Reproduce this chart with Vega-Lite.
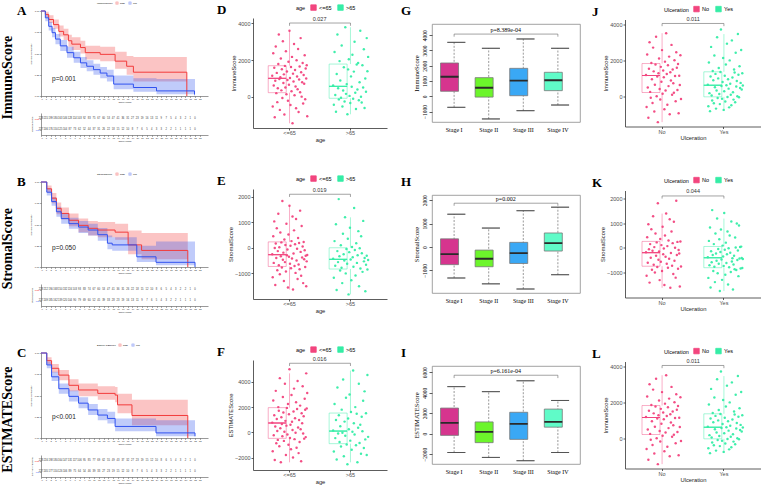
{
"$schema": "https://vega.github.io/schema/vega-lite/v6.json",
"background": "white",
"padding": {"left": 0, "top": 1, "right": 0, "bottom": 0},
"config": {
 "view": {"stroke": null},
 "font": "Liberation Sans",
 "axis": {"grid": false, "labelOverlap": false, "labelFontSize": 5.5, "titleFontSize": 5.8, "titleFontWeight": "normal", "labelColor": "#4d4d4d", "titleColor": "#222", "domainColor": "#333", "tickColor": "#333", "tickSize": 2, "labelPadding": 1, "titlePadding": 1, "domainWidth": 0.8, "tickWidth": 0.8},
 "legend": {"labelFontSize": 5.5, "titleFontSize": 5.5, "titleFontWeight": "normal", "direction": "horizontal", "titleOrient": "left", "symbolSize": 30, "padding": 0, "columnPadding": 4, "labelOffset": 2, "titlePadding": 4, "symbolType": "square", "symbolStrokeWidth": 0.8},
 "title": {"font": "Liberation Serif", "fontSize": 13, "fontWeight": "bold", "anchor": "start", "frame": "group", "color": "#000", "offset": 4}
},
"resolve": {"scale": {"color": "independent"}, "legend": {"color": "independent"}},
"datasets": {
 "km": [
  {"p":"A","grp":"high","t":0,"s":1,"lo":1,"hi":1},{"p":"A","grp":"high","t":0.9,"s":0.96,"lo":0.93,"hi":0.99},{"p":"A","grp":"high","t":1.6,"s":0.9,"lo":0.86,"hi":0.95},{"p":"A","grp":"high","t":2.6,"s":0.84,"lo":0.79,"hi":0.9},{"p":"A","grp":"high","t":3.7,"s":0.76,"lo":0.7,"hi":0.83},{"p":"A","grp":"high","t":4.7,"s":0.72,"lo":0.66,"hi":0.79},{"p":"A","grp":"high","t":5.7,"s":0.65,"lo":0.58,"hi":0.72},{"p":"A","grp":"high","t":6.4,"s":0.61,"lo":0.54,"hi":0.69},{"p":"A","grp":"high","t":8.2,"s":0.57,"lo":0.5,"hi":0.65},{"p":"A","grp":"high","t":9.2,"s":0.51,"lo":0.43,"hi":0.59},{"p":"A","grp":"high","t":12.3,"s":0.49,"lo":0.41,"hi":0.58},{"p":"A","grp":"high","t":15.4,"s":0.41,"lo":0.32,"hi":0.52},{"p":"A","grp":"high","t":17.8,"s":0.35,"lo":0.25,"hi":0.47},{"p":"A","grp":"high","t":19.2,"s":0.28,"lo":0.17,"hi":0.46},{"p":"A","grp":"high","t":30.3,"s":0,"lo":0,"hi":0},
  {"p":"A","grp":"low","t":0,"s":1,"lo":1,"hi":1},{"p":"A","grp":"low","t":0.9,"s":0.92,"lo":0.88,"hi":0.96},{"p":"A","grp":"low","t":1.6,"s":0.82,"lo":0.77,"hi":0.87},{"p":"A","grp":"low","t":2.3,"s":0.745,"lo":0.69,"hi":0.8},{"p":"A","grp":"low","t":3,"s":0.67,"lo":0.61,"hi":0.73},{"p":"A","grp":"low","t":4,"s":0.59,"lo":0.53,"hi":0.66},{"p":"A","grp":"low","t":5.4,"s":0.51,"lo":0.45,"hi":0.58},{"p":"A","grp":"low","t":6.8,"s":0.45,"lo":0.39,"hi":0.52},{"p":"A","grp":"low","t":8.2,"s":0.39,"lo":0.33,"hi":0.46},{"p":"A","grp":"low","t":9.5,"s":0.35,"lo":0.29,"hi":0.42},{"p":"A","grp":"low","t":10.9,"s":0.31,"lo":0.25,"hi":0.38},{"p":"A","grp":"low","t":12.3,"s":0.27,"lo":0.21,"hi":0.34},{"p":"A","grp":"low","t":13.7,"s":0.235,"lo":0.17,"hi":0.31},{"p":"A","grp":"low","t":15.1,"s":0.14,"lo":0.08,"hi":0.24},{"p":"A","grp":"low","t":19.2,"s":0.1,"lo":0.05,"hi":0.21},{"p":"A","grp":"low","t":24,"s":0.06,"lo":0.02,"hi":0.2},{"p":"A","grp":"low","t":31.9,"s":0.02,"lo":0,"hi":0.2},{"p":"A","grp":"low","t":32,"s":0.02,"lo":0,"hi":0.2},
  {"p":"B","grp":"high","t":0,"s":1,"lo":1,"hi":1},{"p":"B","grp":"high","t":1.2,"s":0.92,"lo":0.88,"hi":0.96},{"p":"B","grp":"high","t":2.2,"s":0.81,"lo":0.75,"hi":0.87},{"p":"B","grp":"high","t":3.2,"s":0.69,"lo":0.62,"hi":0.76},{"p":"B","grp":"high","t":4.2,"s":0.63,"lo":0.56,"hi":0.7},{"p":"B","grp":"high","t":5.8,"s":0.55,"lo":0.48,"hi":0.63},{"p":"B","grp":"high","t":7.8,"s":0.49,"lo":0.41,"hi":0.57},{"p":"B","grp":"high","t":9.8,"s":0.455,"lo":0.37,"hi":0.54},{"p":"B","grp":"high","t":11.8,"s":0.435,"lo":0.35,"hi":0.53},{"p":"B","grp":"high","t":15.4,"s":0.41,"lo":0.32,"hi":0.51},{"p":"B","grp":"high","t":18.1,"s":0.26,"lo":0.15,"hi":0.43},{"p":"B","grp":"high","t":20.9,"s":0.195,"lo":0.09,"hi":0.4},{"p":"B","grp":"high","t":30.5,"s":0,"lo":0,"hi":0},
  {"p":"B","grp":"low","t":0,"s":1,"lo":1,"hi":1},{"p":"B","grp":"low","t":1.2,"s":0.88,"lo":0.84,"hi":0.92},{"p":"B","grp":"low","t":2.2,"s":0.77,"lo":0.72,"hi":0.82},{"p":"B","grp":"low","t":3.2,"s":0.65,"lo":0.59,"hi":0.71},{"p":"B","grp":"low","t":4.2,"s":0.57,"lo":0.51,"hi":0.63},{"p":"B","grp":"low","t":5.8,"s":0.51,"lo":0.45,"hi":0.58},{"p":"B","grp":"low","t":7.8,"s":0.47,"lo":0.4,"hi":0.54},{"p":"B","grp":"low","t":9.8,"s":0.435,"lo":0.37,"hi":0.51},{"p":"B","grp":"low","t":11.8,"s":0.38,"lo":0.31,"hi":0.46},{"p":"B","grp":"low","t":13.8,"s":0.28,"lo":0.21,"hi":0.37},{"p":"B","grp":"low","t":14.8,"s":0.26,"lo":0.19,"hi":0.35},{"p":"B","grp":"low","t":19.9,"s":0.12,"lo":0.06,"hi":0.25},{"p":"B","grp":"low","t":23.9,"s":0.055,"lo":0.02,"hi":0.3},{"p":"B","grp":"low","t":32,"s":0,"lo":0,"hi":0},
  {"p":"C","grp":"high","t":0,"s":1,"lo":1,"hi":1},{"p":"C","grp":"high","t":1.2,"s":0.91,"lo":0.87,"hi":0.95},{"p":"C","grp":"high","t":2.2,"s":0.82,"lo":0.77,"hi":0.87},{"p":"C","grp":"high","t":3.7,"s":0.74,"lo":0.68,"hi":0.8},{"p":"C","grp":"high","t":5.8,"s":0.62,"lo":0.55,"hi":0.69},{"p":"C","grp":"high","t":7.8,"s":0.565,"lo":0.49,"hi":0.64},{"p":"C","grp":"high","t":11.8,"s":0.525,"lo":0.45,"hi":0.61},{"p":"C","grp":"high","t":15.4,"s":0.505,"lo":0.42,"hi":0.6},{"p":"C","grp":"high","t":15.9,"s":0.39,"lo":0.29,"hi":0.52},{"p":"C","grp":"high","t":18.9,"s":0.265,"lo":0.15,"hi":0.45},{"p":"C","grp":"high","t":30.5,"s":0,"lo":0,"hi":0},
  {"p":"C","grp":"low","t":0,"s":1,"lo":1,"hi":1},{"p":"C","grp":"low","t":1.2,"s":0.86,"lo":0.82,"hi":0.9},{"p":"C","grp":"low","t":2.2,"s":0.72,"lo":0.67,"hi":0.78},{"p":"C","grp":"low","t":3.7,"s":0.58,"lo":0.52,"hi":0.64},{"p":"C","grp":"low","t":5.8,"s":0.49,"lo":0.43,"hi":0.56},{"p":"C","grp":"low","t":7.8,"s":0.41,"lo":0.35,"hi":0.48},{"p":"C","grp":"low","t":9.8,"s":0.33,"lo":0.27,"hi":0.4},{"p":"C","grp":"low","t":11.8,"s":0.27,"lo":0.21,"hi":0.34},{"p":"C","grp":"low","t":13.8,"s":0.23,"lo":0.17,"hi":0.31},{"p":"C","grp":"low","t":15.4,"s":0.136,"lo":0.08,"hi":0.23},{"p":"C","grp":"low","t":23.9,"s":0.06,"lo":0.02,"hi":0.21},{"p":"C","grp":"low","t":32,"s":0.02,"lo":0,"hi":0.21}
 ],
 "risk": [
  {"p":"A","grp":"high","t":0,"n":228},{"p":"A","grp":"high","t":1,"n":215},{"p":"A","grp":"high","t":2,"n":199},{"p":"A","grp":"high","t":3,"n":180},{"p":"A","grp":"high","t":4,"n":163},{"p":"A","grp":"high","t":5,"n":146},{"p":"A","grp":"high","t":6,"n":128},{"p":"A","grp":"high","t":7,"n":114},{"p":"A","grp":"high","t":8,"n":103},{"p":"A","grp":"high","t":9,"n":92},{"p":"A","grp":"high","t":10,"n":83},{"p":"A","grp":"high","t":11,"n":75},{"p":"A","grp":"high","t":12,"n":67},{"p":"A","grp":"high","t":13,"n":60},{"p":"A","grp":"high","t":14,"n":53},{"p":"A","grp":"high","t":15,"n":47},{"p":"A","grp":"high","t":16,"n":41},{"p":"A","grp":"high","t":17,"n":36},{"p":"A","grp":"high","t":18,"n":31},{"p":"A","grp":"high","t":19,"n":27},{"p":"A","grp":"high","t":20,"n":23},{"p":"A","grp":"high","t":21,"n":19},{"p":"A","grp":"high","t":22,"n":16},{"p":"A","grp":"high","t":23,"n":13},{"p":"A","grp":"high","t":24,"n":11},{"p":"A","grp":"high","t":25,"n":9},{"p":"A","grp":"high","t":26,"n":7},{"p":"A","grp":"high","t":27,"n":5},{"p":"A","grp":"high","t":28,"n":4},{"p":"A","grp":"high","t":29,"n":3},{"p":"A","grp":"high","t":30,"n":2},{"p":"A","grp":"high","t":31,"n":1},{"p":"A","grp":"high","t":32,"n":0},
  {"p":"A","grp":"low","t":0,"n":227},{"p":"A","grp":"low","t":1,"n":206},{"p":"A","grp":"low","t":2,"n":176},{"p":"A","grp":"low","t":3,"n":150},{"p":"A","grp":"low","t":4,"n":125},{"p":"A","grp":"low","t":5,"n":104},{"p":"A","grp":"low","t":6,"n":87},{"p":"A","grp":"low","t":7,"n":73},{"p":"A","grp":"low","t":8,"n":62},{"p":"A","grp":"low","t":9,"n":52},{"p":"A","grp":"low","t":10,"n":44},{"p":"A","grp":"low","t":11,"n":37},{"p":"A","grp":"low","t":12,"n":31},{"p":"A","grp":"low","t":13,"n":26},{"p":"A","grp":"low","t":14,"n":22},{"p":"A","grp":"low","t":15,"n":18},{"p":"A","grp":"low","t":16,"n":15},{"p":"A","grp":"low","t":17,"n":12},{"p":"A","grp":"low","t":18,"n":10},{"p":"A","grp":"low","t":19,"n":8},{"p":"A","grp":"low","t":20,"n":7},{"p":"A","grp":"low","t":21,"n":6},{"p":"A","grp":"low","t":22,"n":5},{"p":"A","grp":"low","t":23,"n":4},{"p":"A","grp":"low","t":24,"n":3},{"p":"A","grp":"low","t":25,"n":3},{"p":"A","grp":"low","t":26,"n":2},{"p":"A","grp":"low","t":27,"n":2},{"p":"A","grp":"low","t":28,"n":1},{"p":"A","grp":"low","t":29,"n":1},{"p":"A","grp":"low","t":30,"n":1},{"p":"A","grp":"low","t":31,"n":1},{"p":"A","grp":"low","t":32,"n":0},
  {"p":"B","grp":"high","t":0,"n":228},{"p":"B","grp":"high","t":1,"n":212},{"p":"B","grp":"high","t":2,"n":190},{"p":"B","grp":"high","t":3,"n":168},{"p":"B","grp":"high","t":4,"n":150},{"p":"B","grp":"high","t":5,"n":132},{"p":"B","grp":"high","t":6,"n":116},{"p":"B","grp":"high","t":7,"n":103},{"p":"B","grp":"high","t":8,"n":93},{"p":"B","grp":"high","t":9,"n":83},{"p":"B","grp":"high","t":10,"n":74},{"p":"B","grp":"high","t":11,"n":67},{"p":"B","grp":"high","t":12,"n":60},{"p":"B","grp":"high","t":13,"n":53},{"p":"B","grp":"high","t":14,"n":47},{"p":"B","grp":"high","t":15,"n":41},{"p":"B","grp":"high","t":16,"n":36},{"p":"B","grp":"high","t":17,"n":31},{"p":"B","grp":"high","t":18,"n":26},{"p":"B","grp":"high","t":19,"n":22},{"p":"B","grp":"high","t":20,"n":18},{"p":"B","grp":"high","t":21,"n":15},{"p":"B","grp":"high","t":22,"n":12},{"p":"B","grp":"high","t":23,"n":10},{"p":"B","grp":"high","t":24,"n":8},{"p":"B","grp":"high","t":25,"n":6},{"p":"B","grp":"high","t":26,"n":5},{"p":"B","grp":"high","t":27,"n":4},{"p":"B","grp":"high","t":28,"n":3},{"p":"B","grp":"high","t":29,"n":2},{"p":"B","grp":"high","t":30,"n":2},{"p":"B","grp":"high","t":31,"n":1},{"p":"B","grp":"high","t":32,"n":0},
  {"p":"B","grp":"low","t":0,"n":227},{"p":"B","grp":"low","t":1,"n":209},{"p":"B","grp":"low","t":2,"n":185},{"p":"B","grp":"low","t":3,"n":162},{"p":"B","grp":"low","t":4,"n":139},{"p":"B","grp":"low","t":5,"n":120},{"p":"B","grp":"low","t":6,"n":104},{"p":"B","grp":"low","t":7,"n":90},{"p":"B","grp":"low","t":8,"n":79},{"p":"B","grp":"low","t":9,"n":69},{"p":"B","grp":"low","t":10,"n":60},{"p":"B","grp":"low","t":11,"n":52},{"p":"B","grp":"low","t":12,"n":45},{"p":"B","grp":"low","t":13,"n":39},{"p":"B","grp":"low","t":14,"n":33},{"p":"B","grp":"low","t":15,"n":28},{"p":"B","grp":"low","t":16,"n":23},{"p":"B","grp":"low","t":17,"n":19},{"p":"B","grp":"low","t":18,"n":16},{"p":"B","grp":"low","t":19,"n":13},{"p":"B","grp":"low","t":20,"n":11},{"p":"B","grp":"low","t":21,"n":9},{"p":"B","grp":"low","t":22,"n":7},{"p":"B","grp":"low","t":23,"n":6},{"p":"B","grp":"low","t":24,"n":5},{"p":"B","grp":"low","t":25,"n":4},{"p":"B","grp":"low","t":26,"n":3},{"p":"B","grp":"low","t":27,"n":2},{"p":"B","grp":"low","t":28,"n":2},{"p":"B","grp":"low","t":29,"n":1},{"p":"B","grp":"low","t":30,"n":1},{"p":"B","grp":"low","t":31,"n":1},{"p":"B","grp":"low","t":32,"n":0},
  {"p":"C","grp":"high","t":0,"n":228},{"p":"C","grp":"high","t":1,"n":216},{"p":"C","grp":"high","t":2,"n":198},{"p":"C","grp":"high","t":3,"n":180},{"p":"C","grp":"high","t":4,"n":164},{"p":"C","grp":"high","t":5,"n":147},{"p":"C","grp":"high","t":6,"n":131},{"p":"C","grp":"high","t":7,"n":117},{"p":"C","grp":"high","t":8,"n":106},{"p":"C","grp":"high","t":9,"n":95},{"p":"C","grp":"high","t":10,"n":85},{"p":"C","grp":"high","t":11,"n":77},{"p":"C","grp":"high","t":12,"n":69},{"p":"C","grp":"high","t":13,"n":62},{"p":"C","grp":"high","t":14,"n":55},{"p":"C","grp":"high","t":15,"n":49},{"p":"C","grp":"high","t":16,"n":43},{"p":"C","grp":"high","t":17,"n":37},{"p":"C","grp":"high","t":18,"n":32},{"p":"C","grp":"high","t":19,"n":27},{"p":"C","grp":"high","t":20,"n":23},{"p":"C","grp":"high","t":21,"n":19},{"p":"C","grp":"high","t":22,"n":15},{"p":"C","grp":"high","t":23,"n":12},{"p":"C","grp":"high","t":24,"n":10},{"p":"C","grp":"high","t":25,"n":8},{"p":"C","grp":"high","t":26,"n":6},{"p":"C","grp":"high","t":27,"n":5},{"p":"C","grp":"high","t":28,"n":4},{"p":"C","grp":"high","t":29,"n":3},{"p":"C","grp":"high","t":30,"n":2},{"p":"C","grp":"high","t":31,"n":1},{"p":"C","grp":"high","t":32,"n":0},
  {"p":"C","grp":"low","t":0,"n":227},{"p":"C","grp":"low","t":1,"n":205},{"p":"C","grp":"low","t":2,"n":177},{"p":"C","grp":"low","t":3,"n":150},{"p":"C","grp":"low","t":4,"n":126},{"p":"C","grp":"low","t":5,"n":106},{"p":"C","grp":"low","t":6,"n":89},{"p":"C","grp":"low","t":7,"n":75},{"p":"C","grp":"low","t":8,"n":64},{"p":"C","grp":"low","t":9,"n":54},{"p":"C","grp":"low","t":10,"n":46},{"p":"C","grp":"low","t":11,"n":39},{"p":"C","grp":"low","t":12,"n":33},{"p":"C","grp":"low","t":13,"n":27},{"p":"C","grp":"low","t":14,"n":23},{"p":"C","grp":"low","t":15,"n":19},{"p":"C","grp":"low","t":16,"n":15},{"p":"C","grp":"low","t":17,"n":12},{"p":"C","grp":"low","t":18,"n":10},{"p":"C","grp":"low","t":19,"n":8},{"p":"C","grp":"low","t":20,"n":7},{"p":"C","grp":"low","t":21,"n":6},{"p":"C","grp":"low","t":22,"n":5},{"p":"C","grp":"low","t":23,"n":4},{"p":"C","grp":"low","t":24,"n":3},{"p":"C","grp":"low","t":25,"n":3},{"p":"C","grp":"low","t":26,"n":2},{"p":"C","grp":"low","t":27,"n":2},{"p":"C","grp":"low","t":28,"n":1},{"p":"C","grp":"low","t":29,"n":1},{"p":"C","grp":"low","t":30,"n":1},{"p":"C","grp":"low","t":31,"n":1},{"p":"C","grp":"low","t":32,"n":0}
 ],
 "box": [
  {"p":"D","g":"<=65","lo":-1430,"q1":235,"med":1015,"q3":1700,"hi":3600},{"p":"D","g":">65","lo":-940,"q1":-70,"med":580,"q3":1790,"hi":3790},
  {"p":"E","g":"<=65","lo":-1630,"q1":-730,"med":-270,"q3":230,"hi":1640},{"p":"E","g":">65","lo":-1820,"q1":-830,"med":-450,"q3":0,"hi":1190},
  {"p":"F","g":"<=65","lo":-2380,"q1":-480,"med":740,"q3":1960,"hi":4680},{"p":"F","g":">65","lo":-2380,"q1":-900,"med":100,"q3":1530,"hi":4900},
  {"p":"J","g":"No","lo":-1440,"q1":205,"med":1150,"q3":1815,"hi":3500},{"p":"J","g":"Yes","lo":-830,"q1":-35,"med":610,"q3":1355,"hi":3450},
  {"p":"K","g":"No","lo":-1610,"q1":-740,"med":-195,"q3":260,"hi":1380},{"p":"K","g":"Yes","lo":-1740,"q1":-800,"med":-400,"q3":55,"hi":1180},
  {"p":"G","g":"Stage I","lo":-720,"q1":330,"med":1280,"q3":2180,"hi":3530},{"p":"G","g":"Stage II","lo":-1480,"q1":-50,"med":560,"q3":1220,"hi":3140},{"p":"G","g":"Stage III","lo":-940,"q1":40,"med":1020,"q3":1830,"hi":3750},{"p":"G","g":"Stage IV","lo":-570,"q1":370,"med":1050,"q3":1570,"hi":3140},
  {"p":"H","g":"Stage I","lo":-1320,"q1":-750,"med":-300,"q3":350,"hi":1400},{"p":"H","g":"Stage II","lo":-1570,"q1":-840,"med":-500,"q3":-130,"hi":810},{"p":"H","g":"Stage III","lo":-1790,"q1":-700,"med":-255,"q3":200,"hi":1550},{"p":"H","g":"Stage IV","lo":-1180,"q1":-170,"med":170,"q3":600,"hi":1700},
  {"p":"I","g":"Stage I","lo":-1830,"q1":-160,"med":1060,"q3":2500,"hi":4590},{"p":"I","g":"Stage II","lo":-2310,"q1":-870,"med":190,"q3":1150,"hi":4100},{"p":"I","g":"Stage III","lo":-2630,"q1":-550,"med":960,"q3":2090,"hi":5160},{"p":"I","g":"Stage IV","lo":-1830,"q1":640,"med":1150,"q3":2400,"hi":3240}
 ],
 "D": [
  {"g":"<=65","v":1150},{"g":"<=65","v":-520},{"g":"<=65","v":2380},{"g":"<=65","v":620},{"g":"<=65","v":1590},{"g":"<=65","v":-1100},{"g":"<=65","v":880},{"g":"<=65","v":2740},{"g":"<=65","v":210},{"g":"<=65","v":1310},
  {"g":"<=65","v":-280},{"g":"<=65","v":470},{"g":"<=65","v":1790},{"g":"<=65","v":3400},{"g":"<=65","v":980},{"g":"<=65","v":-700},{"g":"<=65","v":1070},{"g":"<=65","v":2090},{"g":"<=65","v":360},{"g":"<=65","v":1510},
  {"g":"<=65","v":-50},{"g":"<=65","v":3030},{"g":"<=65","v":760},{"g":"<=65","v":1230},{"g":"<=65","v":-950},{"g":"<=65","v":1690},{"g":"<=65","v":520},{"g":"<=65","v":2490},{"g":"<=65","v":150},{"g":"<=65","v":1390},
  {"g":"<=65","v":920},{"g":"<=65","v":-200},{"g":"<=65","v":1920},{"g":"<=65","v":670},{"g":"<=65","v":3600},{"g":"<=65","v":1030},{"g":"<=65","v":-430},{"g":"<=65","v":1630},{"g":"<=65","v":310},{"g":"<=65","v":2180},
  {"g":"<=65","v":-1430},{"g":"<=65","v":1270},{"g":"<=65","v":840},{"g":"<=65","v":2880},{"g":"<=65","v":90},{"g":"<=65","v":1470},{"g":"<=65","v":570},{"g":"<=65","v":-610},{"g":"<=65","v":2000},{"g":"<=65","v":1110},
  {"g":"<=65","v":420},{"g":"<=65","v":2610},{"g":"<=65","v":-820},{"g":"<=65","v":950},{"g":"<=65","v":1660},{"g":"<=65","v":260},{"g":"<=65","v":3200},{"g":"<=65","v":1350},{"g":"<=65","v":20},{"g":"<=65","v":800},
  {"g":"<=65","v":1850},{"g":"<=65","v":-350},{"g":"<=65","v":1190},{"g":"<=65","v":720},{"g":"<=65","v":2270},{"g":"<=65","v":-120},{"g":"<=65","v":1550},{"g":"<=65","v":1000},{"g":"<=65","v":1730},{"g":"<=65","v":-1050},
  {"g":">65","v":620},{"g":">65","v":-420},{"g":">65","v":2450},{"g":">65","v":110},{"g":">65","v":-800},{"g":">65","v":1250},{"g":">65","v":3400},{"g":">65","v":470},{"g":">65","v":-130},{"g":">65","v":1950},
  {"g":">65","v":900},{"g":">65","v":-40},{"g":">65","v":2800},{"g":">65","v":-520},{"g":">65","v":350},{"g":">65","v":1620},{"g":">65","v":-250},{"g":">65","v":3790},{"g":">65","v":170},{"g":">65","v":700},
  {"g":">65","v":-940},{"g":">65","v":1500},{"g":">65","v":2050},{"g":">65","v":60},{"g":">65","v":-330},{"g":">65","v":1120},{"g":">65","v":560},{"g":">65","v":2300},{"g":">65","v":-90},{"g":">65","v":1380},
  {"g":">65","v":3000},{"g":">65","v":230},{"g":">65","v":-650},{"g":">65","v":1770},{"g":">65","v":410},{"g":">65","v":1850},{"g":">65","v":-180},{"g":">65","v":800},{"g":">65","v":3600},{"g":">65","v":10},
  {"g":">65","v":-300},{"g":">65","v":1720},{"g":">65","v":520},{"g":">65","v":2600},{"g":">65","v":-600},{"g":">65","v":1000},{"g":">65","v":290},{"g":">65","v":3200},{"g":">65","v":1400},{"g":">65","v":2180}
 ],
 "E": [
  {"g":"<=65","v":-250},{"g":"<=65","v":-1150},{"g":"<=65","v":450},{"g":"<=65","v":-590},{"g":"<=65","v":1030},{"g":"<=65","v":-10},{"g":"<=65","v":-1450},{"g":"<=65","v":170},{"g":"<=65","v":-400},{"g":"<=65","v":760},
  {"g":"<=65","v":-880},{"g":"<=65","v":-130},{"g":"<=65","v":1330},{"g":"<=65","v":-680},{"g":"<=65","v":20},{"g":"<=65","v":-1030},{"g":"<=65","v":600},{"g":"<=65","v":-330},{"g":"<=65","v":210},{"g":"<=65","v":-770},
  {"g":"<=65","v":1830},{"g":"<=65","v":-470},{"g":"<=65","v":-190},{"g":"<=65","v":-1300},{"g":"<=65","v":320},{"g":"<=65","v":-560},{"g":"<=65","v":110},{"g":"<=65","v":-930},{"g":"<=65","v":940},{"g":"<=65","v":-290},
  {"g":"<=65","v":-70},{"g":"<=65","v":-1550},{"g":"<=65","v":520},{"g":"<=65","v":-350},{"g":"<=65","v":1640},{"g":"<=65","v":-620},{"g":"<=65","v":80},{"g":"<=65","v":-800},{"g":"<=65","v":260},{"g":"<=65","v":-420},
  {"g":"<=65","v":1220},{"g":"<=65","v":-1630},{"g":"<=65","v":-220},{"g":"<=65","v":680},{"g":"<=65","v":-710},{"g":"<=65","v":140},{"g":"<=65","v":-980},{"g":"<=65","v":1120},{"g":"<=65","v":-500},{"g":"<=65","v":-40},
  {"g":"<=65","v":-1220},{"g":"<=65","v":380},{"g":"<=65","v":-650},{"g":"<=65","v":190},{"g":"<=65","v":-840},{"g":"<=65","v":1450},{"g":"<=65","v":-160},{"g":"<=65","v":-1090},{"g":"<=65","v":850},{"g":"<=65","v":-380},
  {"g":"<=65","v":50},{"g":"<=65","v":-1380},{"g":"<=65","v":225},{"g":"<=65","v":-450},{"g":"<=65","v":-100},{"g":"<=65","v":-750},{"g":"<=65","v":-310},{"g":"<=65","v":-1500},{"g":"<=65","v":-530},{"g":"<=65","v":-280},
  {"g":">65","v":-430},{"g":">65","v":-1170},{"g":">65","v":260},{"g":">65","v":-700},{"g":">65","v":920},{"g":">65","v":-1650},{"g":">65","v":-130},{"g":">65","v":-560},{"g":">65","v":1900},{"g":">65","v":-330},
  {"g":">65","v":-890},{"g":">65","v":100},{"g":">65","v":-780},{"g":">65","v":-1380},{"g":">65","v":550},{"g":">65","v":-250},{"g":">65","v":-500},{"g":">65","v":1190},{"g":">65","v":-1000},{"g":">65","v":-50},
  {"g":">65","v":-620},{"g":">65","v":350},{"g":">65","v":-1820},{"g":">65","v":-170},{"g":">65","v":780},{"g":">65","v":-460},{"g":">65","v":-1270},{"g":">65","v":30},{"g":">65","v":-370},{"g":">65","v":-740},
  {"g":">65","v":1550},{"g":">65","v":-90},{"g":">65","v":-1080},{"g":">65","v":180},{"g":">65","v":-590},{"g":">65","v":-290},{"g":">65","v":650},{"g":">65","v":-1500},{"g":">65","v":-20},{"g":">65","v":-810},
  {"g":">65","v":450},{"g":">65","v":-210},{"g":">65","v":-940},{"g":">65","v":1050},{"g":">65","v":-530},{"g":">65","v":-400},{"g":">65","v":-1700},{"g":">65","v":-660},{"g":">65","v":-310},{"g":">65","v":-850},{"g":">65","v":-480}
 ],
 "F": [
  {"g":"<=65","v":770},{"g":"<=65","v":-1500},{"g":"<=65","v":2520},{"g":"<=65","v":-240},{"g":"<=65","v":1360},{"g":"<=65","v":-2200},{"g":"<=65","v":460},{"g":"<=65","v":3290},{"g":"<=65","v":-870},{"g":"<=65","v":1050},
  {"g":"<=65","v":110},{"g":"<=65","v":-600},{"g":"<=65","v":2000},{"g":"<=65","v":1720},{"g":"<=65","v":-1100},{"g":"<=65","v":4300},{"g":"<=65","v":320},{"g":"<=65","v":-2380},{"g":"<=65","v":1200},{"g":"<=65","v":660},
  {"g":"<=65","v":-310},{"g":"<=65","v":2810},{"g":"<=65","v":1580},{"g":"<=65","v":-680},{"g":"<=65","v":40},{"g":"<=65","v":3860},{"g":"<=65","v":910},{"g":"<=65","v":-1800},{"g":"<=65","v":530},{"g":"<=65","v":1940},
  {"g":"<=65","v":-170},{"g":"<=65","v":2250},{"g":"<=65","v":-980},{"g":"<=65","v":1440},{"g":"<=65","v":5000},{"g":"<=65","v":-450},{"g":"<=65","v":600},{"g":"<=65","v":-1350},{"g":"<=65","v":2960},{"g":"<=65","v":840},
  {"g":"<=65","v":180},{"g":"<=65","v":-2000},{"g":"<=65","v":1650},{"g":"<=65","v":3470},{"g":"<=65","v":-540},{"g":"<=65","v":1120},{"g":"<=65","v":-30},{"g":"<=65","v":2380},{"g":"<=65","v":-1220},{"g":"<=65","v":1850},
  {"g":"<=65","v":4080},{"g":"<=65","v":390},{"g":"<=65","v":-1650},{"g":"<=65","v":980},{"g":"<=65","v":-770},{"g":"<=65","v":2120},{"g":"<=65","v":250},{"g":"<=65","v":-2300},{"g":"<=65","v":1510},{"g":"<=65","v":720},
  {"g":"<=65","v":3660},{"g":"<=65","v":-100},{"g":"<=65","v":1280},{"g":"<=65","v":-500},{"g":"<=65","v":2660},{"g":"<=65","v":1790},{"g":"<=65","v":-380},{"g":"<=65","v":4680},{"g":"<=65","v":1900},{"g":"<=65","v":3120},
  {"g":">65","v":140},{"g":">65","v":-1520},{"g":">65","v":2250},{"g":">65","v":-460},{"g":">65","v":980},{"g":">65","v":-2150},{"g":">65","v":3550},{"g":">65","v":-100},{"g":">65","v":1360},{"g":">65","v":-760},
  {"g":">65","v":480},{"g":">65","v":-1130},{"g":">65","v":1800},{"g":">65","v":-30},{"g":">65","v":4200},{"g":">65","v":-1900},{"g":">65","v":850},{"g":">65","v":-270},{"g":">65","v":2750},{"g":">65","v":-960},
  {"g":">65","v":-2540},{"g":">65","v":1100},{"g":">65","v":250},{"g":">65","v":3000},{"g":">65","v":-660},{"g":">65","v":1620},{"g":">65","v":-1380},{"g":">65","v":40},{"g":">65","v":4900},{"g":">65","v":720},
  {"g":">65","v":-180},{"g":">65","v":2000},{"g":">65","v":-1030},{"g":">65","v":1470},{"g":">65","v":-2380},{"g":">65","v":360},{"g":">65","v":3850},{"g":">65","v":-850},{"g":">65","v":600},{"g":">65","v":-1700},
  {"g":">65","v":1230},{"g":">65","v":80},{"g":">65","v":2500},{"g":">65","v":-1250},{"g":">65","v":3250},{"g":">65","v":-560},{"g":">65","v":1510},{"g":">65","v":-1800},{"g":">65","v":4550},{"g":">65","v":-360}
 ],
 "J": [
  {"g":"No","v":1180},{"g":"No","v":-600},{"g":"No","v":2320},{"g":"No","v":480},{"g":"No","v":-1200},{"g":"No","v":1530},{"g":"No","v":3000},{"g":"No","v":240},{"g":"No","v":-90},{"g":"No","v":1850},
  {"g":"No","v":940},{"g":"No","v":-380},{"g":"No","v":2700},{"g":"No","v":1380},{"g":"No","v":-850},{"g":"No","v":640},{"g":"No","v":1760},{"g":"No","v":3300},{"g":"No","v":0},{"g":"No","v":1090},
  {"g":"No","v":-1440},{"g":"No","v":1280},{"g":"No","v":2100},{"g":"No","v":400},{"g":"No","v":-180},{"g":"No","v":1630},{"g":"No","v":800},{"g":"No","v":2560},{"g":"No","v":140},{"g":"No","v":1430},
  {"g":"No","v":1050},{"g":"No","v":-720},{"g":"No","v":1920},{"g":"No","v":320},{"g":"No","v":3500},{"g":"No","v":1230},{"g":"No","v":-480},{"g":"No","v":1720},{"g":"No","v":560},{"g":"No","v":2200},
  {"g":"No","v":-1000},{"g":"No","v":1330},{"g":"No","v":870},{"g":"No","v":2850},{"g":"No","v":80},{"g":"No","v":1480},{"g":"No","v":720},{"g":"No","v":190},{"g":"No","v":2000},{"g":"No","v":1120},
  {"g":"No","v":-280},{"g":"No","v":2440},{"g":"No","v":1580},{"g":"No","v":350},{"g":"No","v":1790},{"g":"No","v":-950},{"g":"No","v":1140},{"g":"No","v":620},{"g":"No","v":2280},{"g":"No","v":-150},
  {"g":"Yes","v":640},{"g":"Yes","v":-560},{"g":"Yes","v":1870},{"g":"Yes","v":170},{"g":"Yes","v":-830},{"g":"Yes","v":1090},{"g":"Yes","v":2740},{"g":"Yes","v":40},{"g":"Yes","v":-240},{"g":"Yes","v":1400},
  {"g":"Yes","v":890},{"g":"Yes","v":-390},{"g":"Yes","v":2260},{"g":"Yes","v":500},{"g":"Yes","v":1240},{"g":"Yes","v":-690},{"g":"Yes","v":320},{"g":"Yes","v":3280},{"g":"Yes","v":-100},{"g":"Yes","v":990},
  {"g":"Yes","v":1570},{"g":"Yes","v":120},{"g":"Yes","v":-440},{"g":"Yes","v":1350},{"g":"Yes","v":3700},{"g":"Yes","v":570},{"g":"Yes","v":-140},{"g":"Yes","v":790},{"g":"Yes","v":2120},{"g":"Yes","v":-760},
  {"g":"Yes","v":270},{"g":"Yes","v":1140},{"g":"Yes","v":-290},{"g":"Yes","v":1760},{"g":"Yes","v":605},{"g":"Yes","v":2920},{"g":"Yes","v":-40},{"g":"Yes","v":940},{"g":"Yes","v":420},{"g":"Yes","v":-620},
  {"g":"Yes","v":1990},{"g":"Yes","v":690},{"g":"Yes","v":80},{"g":"Yes","v":-500},{"g":"Yes","v":3100},{"g":"Yes","v":1040},{"g":"Yes","v":220},{"g":"Yes","v":-190},{"g":"Yes","v":1480},{"g":"Yes","v":1320},
  {"g":"Yes","v":-340},{"g":"Yes","v":2410},{"g":"Yes","v":540},{"g":"Yes","v":840},{"g":"Yes","v":0},{"g":"Yes","v":3450},{"g":"Yes","v":1190},{"g":"Yes","v":-60},{"g":"Yes","v":1660},{"g":"Yes","v":460},
  {"g":"Yes","v":740},{"g":"Yes","v":2570},{"g":"Yes","v":370},{"g":"Yes","v":1280},{"g":"Yes","v":590}
 ],
 "K": [
  {"g":"No","v":-180},{"g":"No","v":-1120},{"g":"No","v":430},{"g":"No","v":-600},{"g":"No","v":950},{"g":"No","v":-60},{"g":"No","v":-1400},{"g":"No","v":150},{"g":"No","v":-400},{"g":"No","v":750},
  {"g":"No","v":-880},{"g":"No","v":-120},{"g":"No","v":1270},{"g":"No","v":-680},{"g":"No","v":30},{"g":"No","v":-990},{"g":"No","v":580},{"g":"No","v":-320},{"g":"No","v":220},{"g":"No","v":-770},
  {"g":"No","v":1800},{"g":"No","v":-480},{"g":"No","v":-150},{"g":"No","v":-1300},{"g":"No","v":360},{"g":"No","v":-560},{"g":"No","v":110},{"g":"No","v":-930},{"g":"No","v":850},{"g":"No","v":-260},
  {"g":"No","v":-30},{"g":"No","v":-1500},{"g":"No","v":500},{"g":"No","v":-360},{"g":"No","v":1380},{"g":"No","v":-640},{"g":"No","v":70},{"g":"No","v":-800},{"g":"No","v":300},{"g":"No","v":-440},
  {"g":"No","v":1150},{"g":"No","v":-1610},{"g":"No","v":-210},{"g":"No","v":660},{"g":"No","v":-720},{"g":"No","v":190},{"g":"No","v":-1050},{"g":"No","v":1050},{"g":"No","v":-520},{"g":"No","v":0},
  {"g":"No","v":-1200},{"g":"No","v":1900},{"g":"No","v":-290},{"g":"No","v":240},{"g":"No","v":-840},{"g":"No","v":-90},{"g":"No","v":-230},{"g":"No","v":-1560},{"g":"No","v":255},{"g":"No","v":-750},
  {"g":"Yes","v":-380},{"g":"Yes","v":-1210},{"g":"Yes","v":280},{"g":"Yes","v":-700},{"g":"Yes","v":820},{"g":"Yes","v":-1600},{"g":"Yes","v":-140},{"g":"Yes","v":-580},{"g":"Yes","v":1520},{"g":"Yes","v":-290},
  {"g":"Yes","v":-930},{"g":"Yes","v":150},{"g":"Yes","v":-760},{"g":"Yes","v":-1380},{"g":"Yes","v":580},{"g":"Yes","v":-230},{"g":"Yes","v":-520},{"g":"Yes","v":1180},{"g":"Yes","v":-1020},{"g":"Yes","v":-50},
  {"g":"Yes","v":-640},{"g":"Yes","v":350},{"g":"Yes","v":-1740},{"g":"Yes","v":-170},{"g":"Yes","v":740},{"g":"Yes","v":-470},{"g":"Yes","v":-1290},{"g":"Yes","v":90},{"g":"Yes","v":-350},{"g":"Yes","v":-730},
  {"g":"Yes","v":1400},{"g":"Yes","v":-80},{"g":"Yes","v":-1080},{"g":"Yes","v":210},{"g":"Yes","v":-610},{"g":"Yes","v":-260},{"g":"Yes","v":660},{"g":"Yes","v":-1480},{"g":"Yes","v":-20},{"g":"Yes","v":-780},
  {"g":"Yes","v":500},{"g":"Yes","v":-200},{"g":"Yes","v":-970},{"g":"Yes","v":1060},{"g":"Yes","v":-550},{"g":"Yes","v":-415},{"g":"Yes","v":-1680},{"g":"Yes","v":-670},{"g":"Yes","v":-320},{"g":"Yes","v":-860},
  {"g":"Yes","v":420},{"g":"Yes","v":10},{"g":"Yes","v":-890},{"g":"Yes","v":980},{"g":"Yes","v":-490},{"g":"Yes","v":-110},{"g":"Yes","v":-1140},{"g":"Yes","v":900},{"g":"Yes","v":-430},{"g":"Yes","v":35},
  {"g":"Yes","v":-830},{"g":"Yes","v":50},{"g":"Yes","v":-405},{"g":"Yes","v":-810},{"g":"Yes","v":-450}
 ]
},
"spacing": 29,
"vconcat": [
 {
  "title": {"text": "ImmuneScore", "orient": "left", "anchor": "middle", "frame": "bounds", "font": "Liberation Serif", "fontSize": 14, "fontWeight": "bold", "offset": 2, "dx": -6},
  "bounds": "flush", "center": true, "spacing": 45,
  "resolve": {"scale": {"color": "independent"}, "legend": {"color": "independent"}},
  "hconcat": [
   {
    "title": {"text": "A", "dx": -24, "dy": 21},
    "width": 167, "height": 124,
    "layer": [
     {"layer": [
       {"data": {"name": "km"}, "transform": [{"filter": "datum.p==='A'"}],
        "mark": {"type": "area", "interpolate": "step-after", "opacity": 0.3},
        "encoding": {
         "x": {"field": "t", "type": "quantitative", "scale": {"domain": [0, 34.7], "nice": false}, "axis": {"orient": "bottom", "offset": -39, "values": [0,1,2,3,4,5,6,7,8,9,10,11,12,13,14,15,16,17,18,19,20,21,22,23,24,25,26,27,28,29,30,31,32,33], "tickCount": 40, "labelFontSize": 2.3, "labelPadding": 0.5, "tickSize": 1.5, "title": "Time(years)", "titleFontSize": 2.5, "titlePadding": 0.5, "domainWidth": 0.5, "tickWidth": 0.4, "labelColor": "#333"}},
         "y": {"field": "lo", "type": "quantitative", "stack": null, "scale": {"domain": [0, 1], "range": [85, 0], "nice": false}, "axis": {"values": [0, 0.25, 0.5, 0.75, 1], "tickCount": 10, "format": ".2f", "labelFontSize": 2.5, "labelPadding": 0.5, "tickSize": 1.5, "title": "Survival probability", "titleFontSize": 2.5, "titlePadding": 1, "domainWidth": 0.5, "tickWidth": 0.4, "labelColor": "#333"}},
         "y2": {"field": "hi"},
         "color": {"field": "grp", "type": "nominal", "scale": {"domain": ["high", "low"], "range": ["#F23B3B", "#3052F0"]}, "legend": {"title": "ImmuneScore", "orient": "none", "legendX": 56, "legendY": -10, "labelFontSize": 2.5, "titleFontSize": 2.5, "symbolSize": 6, "labelOffset": 1, "columnPadding": 2, "titlePadding": 2}}
        }},
       {"data": {"name": "km"}, "transform": [{"filter": "datum.p==='A'"}],
        "mark": {"type": "line", "interpolate": "step-after", "strokeWidth": 1},
        "encoding": {"x": {"field": "t", "type": "quantitative"}, "y": {"field": "s", "type": "quantitative"}, "color": {"field": "grp", "type": "nominal"}}},
       {"data": {"values": [{}]}, "mark": {"type": "text", "align": "left", "baseline": "middle", "fontSize": 6.5, "color": "#222"},
        "encoding": {"x": {"datum": 2.3, "type": "quantitative"}, "y": {"datum": 0.2, "type": "quantitative"}, "text": {"value": "p=0.001"}}}
     ]},
     {"data": {"name": "risk"}, "transform": [{"filter": "datum.p==='A'"}],
      "mark": {"type": "text", "fontSize": 2.6, "color": "#333"},
      "encoding": {
       "x": {"field": "t", "type": "quantitative", "scale": {"domain": [0, 34.7], "nice": false}, "axis": {"orient": "bottom", "values": [0,1,2,3,4,5,6,7,8,9,10,11,12,13,14,15,16,17,18,19,20,21,22,23,24,25,26,27,28,29,30,31,32,33], "tickCount": 40, "labelFontSize": 2.3, "labelPadding": 0.5, "tickSize": 1.5, "title": "Time(years)", "titleFontSize": 2.5, "titlePadding": 0.5, "domainWidth": 0.5, "tickWidth": 0.4, "labelColor": "#333"}},
       "y": {"field": "grp", "type": "nominal", "scale": {"type": "point", "domain": ["high", "low"], "range": [102, 124], "padding": 0.5}, "axis": {"orient": "left", "title": "ImmuneScore", "titleFontSize": 2.5, "titlePadding": 1, "labelFontSize": 2.5, "labelPadding": 0.5, "tickSize": 1.5, "domainWidth": 0.5, "tickWidth": 0.4, "labelColor": {"condition": {"test": "datum.value==='high'", "value": "#F23B3B"}, "value": "#3052F0"}}},
       "text": {"field": "n", "type": "quantitative"}
      }}
    ],
    "resolve": {"scale": {"x": "independent", "y": "independent"}}
   },
   {
    "title": {"text": "D", "dx": -36, "dy": 17},
    "width": 134, "height": 110,
    "layer": [
     {"data": {"name": "box"}, "transform": [{"filter": "datum.p==='D'"}],
      "mark": {"type": "bar", "filled": false, "strokeWidth": 0.8, "strokeOpacity": 0.55},
      "encoding": {
       "x": {"field": "g", "type": "nominal", "scale": {"domain": ["<=65", ">65"], "paddingInner": 0.3, "paddingOuter": 0.25}, "axis": {"title": "age", "labelAngle": 0, "labelPadding": 0.5, "titlePadding": 0}},
       "y": {"field": "q1", "type": "quantitative", "scale": {"domain": [-1685, 4293], "nice": false, "zero": false}, "axis": {"title": "ImmuneScore", "values": [0, 2000, 4000], "tickCount": 10, "format": "d"}},
       "y2": {"field": "q3"},
       "color": {"field": "g", "type": "nominal", "scale": {"domain": ["<=65", ">65"], "range": ["#F2457E", "#35EDA6"]}, "legend": {"title": "age", "orient": "none", "legendX": 43, "legendY": -14}}
      }},
     {"data": {"name": "box"}, "transform": [{"filter": "datum.p==='D'"}],
      "mark": {"type": "bar", "filled": false, "strokeWidth": 1},
      "encoding": {"x": {"field": "g", "type": "nominal"}, "y": {"field": "med", "type": "quantitative"}, "y2": {"field": "med"}, "color": {"field": "g", "type": "nominal"}}},
     {"data": {"name": "box"}, "transform": [{"filter": "datum.p==='D'"}],
      "mark": {"type": "rule", "strokeWidth": 0.8, "strokeOpacity": 0.55},
      "encoding": {"x": {"field": "g", "type": "nominal"}, "y": {"field": "q3", "type": "quantitative"}, "y2": {"field": "hi"}, "color": {"field": "g", "type": "nominal"}}},
     {"data": {"name": "box"}, "transform": [{"filter": "datum.p==='D'"}],
      "mark": {"type": "rule", "strokeWidth": 0.8, "strokeOpacity": 0.55},
      "encoding": {"x": {"field": "g", "type": "nominal"}, "y": {"field": "lo", "type": "quantitative"}, "y2": {"field": "q1"}, "color": {"field": "g", "type": "nominal"}}},
     {"data": {"name": "D"},
      "transform": [{"window": [{"op": "row_number", "as": "i"}], "groupby": ["g"]}, {"window": [{"op": "percent_rank", "as": "pr"}], "groupby": ["g"], "sort": [{"field": "i"}]}],
      "mark": {"type": "point", "filled": true, "size": 6, "opacity": 0.95},
      "encoding": {"x": {"field": "g", "type": "nominal"}, "xOffset": {"field": "pr", "type": "quantitative", "scale": {"domain": [0, 1], "range": [4, 39]}}, "y": {"field": "v", "type": "quantitative"}, "color": {"field": "g", "type": "nominal"}}},
     {"data": {"values": [{"g": "<=65"}, {"g": ">65"}]}, "mark": {"type": "line", "color": "#666", "strokeWidth": 0.6},
      "encoding": {"x": {"field": "g", "type": "nominal"}, "y": {"datum": 4020}}},
     {"data": {"values": [{"g": "<=65"}, {"g": ">65"}]}, "mark": {"type": "rule", "color": "#666", "strokeWidth": 0.6},
      "encoding": {"x": {"field": "g", "type": "nominal"}, "y": {"datum": 4020}, "y2": {"datum": 3870}}},
     {"data": {"values": [{}]}, "mark": {"type": "text", "dx": 30, "dy": -1.5, "baseline": "bottom", "fontSize": 5.5, "color": "#333"},
      "encoding": {"x": {"datum": "<=65", "type": "nominal"}, "y": {"datum": 4020}, "text": {"value": "0.027"}}}
    ]
   },
   {
    "title": {"text": "G", "dx": -31, "dy": -2},
    "width": 148, "height": 98,
    "view": {"stroke": "#8c8c8c", "strokeWidth": 0.8},
    "layer": [
     {"data": {"name": "box"}, "transform": [{"filter": "datum.p==='G'"}],
      "mark": {"type": "rule", "strokeDash": [2, 1.5], "strokeWidth": 0.6, "color": "#555"},
      "encoding": {
       "x": {"field": "g", "type": "nominal", "scale": {"domain": ["Stage I", "Stage II", "Stage III", "Stage IV"], "paddingInner": 0.215, "paddingOuter": 0.247}, "axis": {"title": null, "labelAngle": 0, "labelFont": "Liberation Serif", "labelFontSize": 6, "tickSize": 0, "domain": false, "labelPadding": 4, "labelColor": "#000"}},
       "y": {"field": "lo", "type": "quantitative", "scale": {"domain": [-1680, 4730], "nice": false, "zero": false}, "axis": {"title": "ImmuneScore", "titleFont": "Liberation Serif", "titleFontSize": 6.5, "labelFont": "Liberation Serif", "labelFontSize": 5.5, "labelAngle": -90, "labelAlign": "center", "labelBaseline": "bottom", "values": [-1000, 0, 1000, 2000, 3000, 4000], "tickCount": 10, "format": "d", "domain": false, "tickSize": 3, "labelPadding": 1.5, "labelColor": "#000", "titleColor": "#000", "titlePadding": 3}},
       "y2": {"field": "hi"}}},
     {"data": {"name": "box"}, "transform": [{"filter": "datum.p==='G'"}],
      "mark": {"type": "bar", "filled": false, "stroke": "#444", "strokeWidth": 0.7, "width": {"band": 0.5}},
      "encoding": {"x": {"field": "g", "type": "nominal"}, "y": {"field": "hi", "type": "quantitative"}, "y2": {"field": "hi"}}},
     {"data": {"name": "box"}, "transform": [{"filter": "datum.p==='G'"}],
      "mark": {"type": "bar", "filled": false, "stroke": "#444", "strokeWidth": 0.7, "width": {"band": 0.5}},
      "encoding": {"x": {"field": "g", "type": "nominal"}, "y": {"field": "lo", "type": "quantitative"}, "y2": {"field": "lo"}}},
     {"data": {"name": "box"}, "transform": [{"filter": "datum.p==='G'"}],
      "mark": {"type": "bar", "stroke": "#777", "strokeWidth": 0.8},
      "encoding": {"x": {"field": "g", "type": "nominal"}, "y": {"field": "q1", "type": "quantitative"}, "y2": {"field": "q3"}, "color": {"field": "g", "type": "nominal", "scale": {"domain": ["Stage I", "Stage II", "Stage III", "Stage IV"], "range": ["#D6358E", "#6CF52B", "#3AA8F5", "#60FBC8"]}, "legend": null}}},
     {"data": {"name": "box"}, "transform": [{"filter": "datum.p==='G'"}],
      "mark": {"type": "bar", "filled": false, "stroke": "#2a2a2a", "strokeWidth": 1.8},
      "encoding": {"x": {"field": "g", "type": "nominal"}, "y": {"field": "med", "type": "quantitative"}, "y2": {"field": "med"}}},
     {"data": {"values": [{"g": "Stage I"}, {"g": "Stage IV"}]}, "mark": {"type": "line", "color": "#666", "strokeWidth": 0.6},
      "encoding": {"x": {"field": "g", "type": "nominal"}, "y": {"datum": 4070}}},
     {"data": {"values": [{"g": "Stage I"}, {"g": "Stage IV"}]}, "mark": {"type": "rule", "color": "#666", "strokeWidth": 0.6},
      "encoding": {"x": {"field": "g", "type": "nominal"}, "y": {"datum": 4070}, "y2": {"datum": 3900}}},
     {"data": {"values": [{}]}, "mark": {"type": "text", "dx": 17, "dy": -1, "baseline": "bottom", "fontSize": 6, "font": "Liberation Serif", "color": "#000"},
      "encoding": {"x": {"datum": "Stage II", "type": "nominal"}, "y": {"datum": 4070}, "text": {"value": "p=8.389e-04"}}}
    ]
   },
   {
    "title": {"text": "J", "dx": -33, "dy": 17},
    "width": 136, "height": 107,
    "layer": [
     {"data": {"name": "box"}, "transform": [{"filter": "datum.p==='J'"}],
      "mark": {"type": "bar", "filled": false, "strokeWidth": 0.8, "strokeOpacity": 0.55},
      "encoding": {
       "x": {"field": "g", "type": "nominal", "scale": {"domain": ["No", "Yes"], "paddingInner": 0.35, "paddingOuter": 0.275}, "axis": {"title": "Ulceration", "labelAngle": 0, "labelPadding": 0.5, "titlePadding": 0}},
       "y": {"field": "q1", "type": "quantitative", "scale": {"domain": [-1683, 4261], "nice": false, "zero": false}, "axis": {"title": "ImmuneScore", "values": [0, 2000, 4000], "tickCount": 10, "format": "d"}},
       "y2": {"field": "q3"},
       "color": {"field": "g", "type": "nominal", "scale": {"domain": ["No", "Yes"], "range": ["#F2457E", "#35EDA6"]}, "legend": {"title": "Ulceration", "orient": "none", "legendX": 39, "legendY": -14}}
      }},
     {"data": {"name": "box"}, "transform": [{"filter": "datum.p==='J'"}],
      "mark": {"type": "bar", "filled": false, "strokeWidth": 1},
      "encoding": {"x": {"field": "g", "type": "nominal"}, "y": {"field": "med", "type": "quantitative"}, "y2": {"field": "med"}, "color": {"field": "g", "type": "nominal"}}},
     {"data": {"name": "box"}, "transform": [{"filter": "datum.p==='J'"}],
      "mark": {"type": "rule", "strokeWidth": 0.8, "strokeOpacity": 0.55},
      "encoding": {"x": {"field": "g", "type": "nominal"}, "y": {"field": "q3", "type": "quantitative"}, "y2": {"field": "hi"}, "color": {"field": "g", "type": "nominal"}}},
     {"data": {"name": "box"}, "transform": [{"filter": "datum.p==='J'"}],
      "mark": {"type": "rule", "strokeWidth": 0.8, "strokeOpacity": 0.55},
      "encoding": {"x": {"field": "g", "type": "nominal"}, "y": {"field": "lo", "type": "quantitative"}, "y2": {"field": "q1"}, "color": {"field": "g", "type": "nominal"}}},
     {"data": {"name": "J"},
      "transform": [{"window": [{"op": "row_number", "as": "i"}], "groupby": ["g"]}, {"window": [{"op": "percent_rank", "as": "pr"}], "groupby": ["g"], "sort": [{"field": "i"}]}],
      "mark": {"type": "point", "filled": true, "size": 6, "opacity": 0.95},
      "encoding": {"x": {"field": "g", "type": "nominal"}, "xOffset": {"field": "pr", "type": "quantitative", "scale": {"domain": [0, 1], "range": [3, 37]}}, "y": {"field": "v", "type": "quantitative"}, "color": {"field": "g", "type": "nominal"}}},
     {"data": {"values": [{"g": "No"}, {"g": "Yes"}]}, "mark": {"type": "line", "color": "#666", "strokeWidth": 0.6},
      "encoding": {"x": {"field": "g", "type": "nominal"}, "y": {"datum": 4040}}},
     {"data": {"values": [{"g": "No"}, {"g": "Yes"}]}, "mark": {"type": "rule", "color": "#666", "strokeWidth": 0.6},
      "encoding": {"x": {"field": "g", "type": "nominal"}, "y": {"datum": 4040}, "y2": {"datum": 3890}}},
     {"data": {"values": [{}]}, "mark": {"type": "text", "dx": 31, "dy": -1.5, "baseline": "bottom", "fontSize": 5.5, "color": "#333"},
      "encoding": {"x": {"datum": "No", "type": "nominal"}, "y": {"datum": 4040}, "text": {"value": "0.011"}}}
    ]
   }
  ]
 },
 {
  "title": {"text": "StromalScore", "orient": "left", "anchor": "middle", "frame": "bounds", "font": "Liberation Serif", "fontSize": 14, "fontWeight": "bold", "offset": 2, "dx": -6},
  "bounds": "flush", "center": true, "spacing": 45,
  "resolve": {"scale": {"color": "independent"}, "legend": {"color": "independent"}},
  "hconcat": [
   {
    "title": {"text": "B", "dx": -24, "dy": 21},
    "width": 167, "height": 124,
    "layer": [
     {"layer": [
       {"data": {"name": "km"}, "transform": [{"filter": "datum.p==='B'"}],
        "mark": {"type": "area", "interpolate": "step-after", "opacity": 0.3},
        "encoding": {
         "x": {"field": "t", "type": "quantitative", "scale": {"domain": [0, 34.7], "nice": false}, "axis": {"orient": "bottom", "offset": -39, "values": [0,1,2,3,4,5,6,7,8,9,10,11,12,13,14,15,16,17,18,19,20,21,22,23,24,25,26,27,28,29,30,31,32,33], "tickCount": 40, "labelFontSize": 2.3, "labelPadding": 0.5, "tickSize": 1.5, "title": "Time(years)", "titleFontSize": 2.5, "titlePadding": 0.5, "domainWidth": 0.5, "tickWidth": 0.4, "labelColor": "#333"}},
         "y": {"field": "lo", "type": "quantitative", "stack": null, "scale": {"domain": [0, 1], "range": [85, 0], "nice": false}, "axis": {"values": [0, 0.25, 0.5, 0.75, 1], "tickCount": 10, "format": ".2f", "labelFontSize": 2.5, "labelPadding": 0.5, "tickSize": 1.5, "title": "Survival probability", "titleFontSize": 2.5, "titlePadding": 1, "domainWidth": 0.5, "tickWidth": 0.4, "labelColor": "#333"}},
         "y2": {"field": "hi"},
         "color": {"field": "grp", "type": "nominal", "scale": {"domain": ["high", "low"], "range": ["#F23B3B", "#3052F0"]}, "legend": {"title": "StromalScore", "orient": "none", "legendX": 56, "legendY": -10, "labelFontSize": 2.5, "titleFontSize": 2.5, "symbolSize": 6, "labelOffset": 1, "columnPadding": 2, "titlePadding": 2}}
        }},
       {"data": {"name": "km"}, "transform": [{"filter": "datum.p==='B'"}],
        "mark": {"type": "line", "interpolate": "step-after", "strokeWidth": 1},
        "encoding": {"x": {"field": "t", "type": "quantitative"}, "y": {"field": "s", "type": "quantitative"}, "color": {"field": "grp", "type": "nominal"}}},
       {"data": {"values": [{}]}, "mark": {"type": "text", "align": "left", "baseline": "middle", "fontSize": 6.5, "color": "#222"},
        "encoding": {"x": {"datum": 2.3, "type": "quantitative"}, "y": {"datum": 0.22, "type": "quantitative"}, "text": {"value": "p=0.050"}}}
     ]},
     {"data": {"name": "risk"}, "transform": [{"filter": "datum.p==='B'"}],
      "mark": {"type": "text", "fontSize": 2.6, "color": "#333"},
      "encoding": {
       "x": {"field": "t", "type": "quantitative", "scale": {"domain": [0, 34.7], "nice": false}, "axis": {"orient": "bottom", "values": [0,1,2,3,4,5,6,7,8,9,10,11,12,13,14,15,16,17,18,19,20,21,22,23,24,25,26,27,28,29,30,31,32,33], "tickCount": 40, "labelFontSize": 2.3, "labelPadding": 0.5, "tickSize": 1.5, "title": "Time(years)", "titleFontSize": 2.5, "titlePadding": 0.5, "domainWidth": 0.5, "tickWidth": 0.4, "labelColor": "#333"}},
       "y": {"field": "grp", "type": "nominal", "scale": {"type": "point", "domain": ["high", "low"], "range": [102, 124], "padding": 0.5}, "axis": {"orient": "left", "title": "StromalScore", "titleFontSize": 2.5, "titlePadding": 1, "labelFontSize": 2.5, "labelPadding": 0.5, "tickSize": 1.5, "domainWidth": 0.5, "tickWidth": 0.4, "labelColor": {"condition": {"test": "datum.value==='high'", "value": "#F23B3B"}, "value": "#3052F0"}}},
       "text": {"field": "n", "type": "quantitative"}
      }}
    ],
    "resolve": {"scale": {"x": "independent", "y": "independent"}}
   },
   {
    "title": {"text": "E", "dx": -36, "dy": 17},
    "width": 134, "height": 110,
    "layer": [
     {"data": {"name": "box"}, "transform": [{"filter": "datum.p==='E'"}],
      "mark": {"type": "bar", "filled": false, "strokeWidth": 0.8, "strokeOpacity": 0.55},
      "encoding": {
       "x": {"field": "g", "type": "nominal", "scale": {"domain": ["<=65", ">65"], "paddingInner": 0.3, "paddingOuter": 0.25}, "axis": {"title": "age", "labelAngle": 0, "labelPadding": 0.5, "titlePadding": 0}},
       "y": {"field": "q1", "type": "quantitative", "scale": {"domain": [-2000, 2295], "nice": false, "zero": false}, "axis": {"title": "StromalScore", "values": [-1000, 0, 1000, 2000], "tickCount": 10, "format": "d"}},
       "y2": {"field": "q3"},
       "color": {"field": "g", "type": "nominal", "scale": {"domain": ["<=65", ">65"], "range": ["#F2457E", "#35EDA6"]}, "legend": {"title": "age", "orient": "none", "legendX": 43, "legendY": -14}}
      }},
     {"data": {"name": "box"}, "transform": [{"filter": "datum.p==='E'"}],
      "mark": {"type": "bar", "filled": false, "strokeWidth": 1},
      "encoding": {"x": {"field": "g", "type": "nominal"}, "y": {"field": "med", "type": "quantitative"}, "y2": {"field": "med"}, "color": {"field": "g", "type": "nominal"}}},
     {"data": {"name": "box"}, "transform": [{"filter": "datum.p==='E'"}],
      "mark": {"type": "rule", "strokeWidth": 0.8, "strokeOpacity": 0.55},
      "encoding": {"x": {"field": "g", "type": "nominal"}, "y": {"field": "q3", "type": "quantitative"}, "y2": {"field": "hi"}, "color": {"field": "g", "type": "nominal"}}},
     {"data": {"name": "box"}, "transform": [{"filter": "datum.p==='E'"}],
      "mark": {"type": "rule", "strokeWidth": 0.8, "strokeOpacity": 0.55},
      "encoding": {"x": {"field": "g", "type": "nominal"}, "y": {"field": "lo", "type": "quantitative"}, "y2": {"field": "q1"}, "color": {"field": "g", "type": "nominal"}}},
     {"data": {"name": "E"},
      "transform": [{"window": [{"op": "row_number", "as": "i"}], "groupby": ["g"]}, {"window": [{"op": "percent_rank", "as": "pr"}], "groupby": ["g"], "sort": [{"field": "i"}]}],
      "mark": {"type": "point", "filled": true, "size": 6, "opacity": 0.95},
      "encoding": {"x": {"field": "g", "type": "nominal"}, "xOffset": {"field": "pr", "type": "quantitative", "scale": {"domain": [0, 1], "range": [4, 39]}}, "y": {"field": "v", "type": "quantitative"}, "color": {"field": "g", "type": "nominal"}}},
     {"data": {"values": [{"g": "<=65"}, {"g": ">65"}]}, "mark": {"type": "line", "color": "#666", "strokeWidth": 0.6},
      "encoding": {"x": {"field": "g", "type": "nominal"}, "y": {"datum": 2090}}},
     {"data": {"values": [{"g": "<=65"}, {"g": ">65"}]}, "mark": {"type": "rule", "color": "#666", "strokeWidth": 0.6},
      "encoding": {"x": {"field": "g", "type": "nominal"}, "y": {"datum": 2090}, "y2": {"datum": 1985}}},
     {"data": {"values": [{}]}, "mark": {"type": "text", "dx": 30, "dy": -1.5, "baseline": "bottom", "fontSize": 5.5, "color": "#333"},
      "encoding": {"x": {"datum": "<=65", "type": "nominal"}, "y": {"datum": 2090}, "text": {"value": "0.019"}}}
    ]
   },
   {
    "title": {"text": "H", "dx": -31, "dy": -2},
    "width": 148, "height": 98,
    "view": {"stroke": "#8c8c8c", "strokeWidth": 0.8},
    "layer": [
     {"data": {"name": "box"}, "transform": [{"filter": "datum.p==='H'"}],
      "mark": {"type": "rule", "strokeDash": [2, 1.5], "strokeWidth": 0.6, "color": "#555"},
      "encoding": {
       "x": {"field": "g", "type": "nominal", "scale": {"domain": ["Stage I", "Stage II", "Stage III", "Stage IV"], "paddingInner": 0.215, "paddingOuter": 0.247}, "axis": {"title": null, "labelAngle": 0, "labelFont": "Liberation Serif", "labelFontSize": 6, "tickSize": 0, "domain": false, "labelPadding": 4, "labelColor": "#000"}},
       "y": {"field": "lo", "type": "quantitative", "scale": {"domain": [-1960, 2220], "nice": false, "zero": false}, "axis": {"title": "StromalScore", "titleFont": "Liberation Serif", "titleFontSize": 6.5, "labelFont": "Liberation Serif", "labelFontSize": 5.5, "labelAngle": -90, "labelAlign": "center", "labelBaseline": "bottom", "values": [-1000, 0, 1000, 2000], "tickCount": 10, "format": "d", "domain": false, "tickSize": 3, "labelPadding": 1.5, "labelColor": "#000", "titleColor": "#000", "titlePadding": 3}},
       "y2": {"field": "hi"}}},
     {"data": {"name": "box"}, "transform": [{"filter": "datum.p==='H'"}],
      "mark": {"type": "bar", "filled": false, "stroke": "#444", "strokeWidth": 0.7, "width": {"band": 0.5}},
      "encoding": {"x": {"field": "g", "type": "nominal"}, "y": {"field": "hi", "type": "quantitative"}, "y2": {"field": "hi"}}},
     {"data": {"name": "box"}, "transform": [{"filter": "datum.p==='H'"}],
      "mark": {"type": "bar", "filled": false, "stroke": "#444", "strokeWidth": 0.7, "width": {"band": 0.5}},
      "encoding": {"x": {"field": "g", "type": "nominal"}, "y": {"field": "lo", "type": "quantitative"}, "y2": {"field": "lo"}}},
     {"data": {"name": "box"}, "transform": [{"filter": "datum.p==='H'"}],
      "mark": {"type": "bar", "stroke": "#777", "strokeWidth": 0.8},
      "encoding": {"x": {"field": "g", "type": "nominal"}, "y": {"field": "q1", "type": "quantitative"}, "y2": {"field": "q3"}, "color": {"field": "g", "type": "nominal", "scale": {"domain": ["Stage I", "Stage II", "Stage III", "Stage IV"], "range": ["#D6358E", "#6CF52B", "#3AA8F5", "#60FBC8"]}, "legend": null}}},
     {"data": {"name": "box"}, "transform": [{"filter": "datum.p==='H'"}],
      "mark": {"type": "bar", "filled": false, "stroke": "#2a2a2a", "strokeWidth": 1.8},
      "encoding": {"x": {"field": "g", "type": "nominal"}, "y": {"field": "med", "type": "quantitative"}, "y2": {"field": "med"}}},
     {"data": {"values": [{"g": "Stage I"}, {"g": "Stage IV"}]}, "mark": {"type": "line", "color": "#666", "strokeWidth": 0.6},
      "encoding": {"x": {"field": "g", "type": "nominal"}, "y": {"datum": 1870}}},
     {"data": {"values": [{"g": "Stage I"}, {"g": "Stage IV"}]}, "mark": {"type": "rule", "color": "#666", "strokeWidth": 0.6},
      "encoding": {"x": {"field": "g", "type": "nominal"}, "y": {"datum": 1870}, "y2": {"datum": 1760}}},
     {"data": {"values": [{}]}, "mark": {"type": "text", "dx": 17, "dy": -1, "baseline": "bottom", "fontSize": 6, "font": "Liberation Serif", "color": "#000"},
      "encoding": {"x": {"datum": "Stage II", "type": "nominal"}, "y": {"datum": 1870}, "text": {"value": "p=0.002"}}}
    ]
   },
   {
    "title": {"text": "K", "dx": -33, "dy": 17},
    "width": 136, "height": 107,
    "layer": [
     {"data": {"name": "box"}, "transform": [{"filter": "datum.p==='K'"}],
      "mark": {"type": "bar", "filled": false, "strokeWidth": 0.8, "strokeOpacity": 0.55},
      "encoding": {
       "x": {"field": "g", "type": "nominal", "scale": {"domain": ["No", "Yes"], "paddingInner": 0.35, "paddingOuter": 0.275}, "axis": {"title": "Ulceration", "labelAngle": 0, "labelPadding": 0.5, "titlePadding": 0}},
       "y": {"field": "q1", "type": "quantitative", "scale": {"domain": [-2000, 2310], "nice": false, "zero": false}, "axis": {"title": "StromalScore", "values": [-1000, 0, 1000, 2000], "tickCount": 10, "format": "d"}},
       "y2": {"field": "q3"},
       "color": {"field": "g", "type": "nominal", "scale": {"domain": ["No", "Yes"], "range": ["#F2457E", "#35EDA6"]}, "legend": {"title": "Ulceration", "orient": "none", "legendX": 39, "legendY": -14}}
      }},
     {"data": {"name": "box"}, "transform": [{"filter": "datum.p==='K'"}],
      "mark": {"type": "bar", "filled": false, "strokeWidth": 1},
      "encoding": {"x": {"field": "g", "type": "nominal"}, "y": {"field": "med", "type": "quantitative"}, "y2": {"field": "med"}, "color": {"field": "g", "type": "nominal"}}},
     {"data": {"name": "box"}, "transform": [{"filter": "datum.p==='K'"}],
      "mark": {"type": "rule", "strokeWidth": 0.8, "strokeOpacity": 0.55},
      "encoding": {"x": {"field": "g", "type": "nominal"}, "y": {"field": "q3", "type": "quantitative"}, "y2": {"field": "hi"}, "color": {"field": "g", "type": "nominal"}}},
     {"data": {"name": "box"}, "transform": [{"filter": "datum.p==='K'"}],
      "mark": {"type": "rule", "strokeWidth": 0.8, "strokeOpacity": 0.55},
      "encoding": {"x": {"field": "g", "type": "nominal"}, "y": {"field": "lo", "type": "quantitative"}, "y2": {"field": "q1"}, "color": {"field": "g", "type": "nominal"}}},
     {"data": {"name": "K"},
      "transform": [{"window": [{"op": "row_number", "as": "i"}], "groupby": ["g"]}, {"window": [{"op": "percent_rank", "as": "pr"}], "groupby": ["g"], "sort": [{"field": "i"}]}],
      "mark": {"type": "point", "filled": true, "size": 6, "opacity": 0.95},
      "encoding": {"x": {"field": "g", "type": "nominal"}, "xOffset": {"field": "pr", "type": "quantitative", "scale": {"domain": [0, 1], "range": [3, 37]}}, "y": {"field": "v", "type": "quantitative"}, "color": {"field": "g", "type": "nominal"}}},
     {"data": {"values": [{"g": "No"}, {"g": "Yes"}]}, "mark": {"type": "line", "color": "#666", "strokeWidth": 0.6},
      "encoding": {"x": {"field": "g", "type": "nominal"}, "y": {"datum": 2090}}},
     {"data": {"values": [{"g": "No"}, {"g": "Yes"}]}, "mark": {"type": "rule", "color": "#666", "strokeWidth": 0.6},
      "encoding": {"x": {"field": "g", "type": "nominal"}, "y": {"datum": 2090}, "y2": {"datum": 1985}}},
     {"data": {"values": [{}]}, "mark": {"type": "text", "dx": 31, "dy": -1.5, "baseline": "bottom", "fontSize": 5.5, "color": "#333"},
      "encoding": {"x": {"datum": "No", "type": "nominal"}, "y": {"datum": 2090}, "text": {"value": "0.044"}}}
    ]
   }
  ]
 },
 {
  "title": {"text": "ESTIMATEScore", "orient": "left", "anchor": "middle", "frame": "bounds", "font": "Liberation Serif", "fontSize": 14, "fontWeight": "bold", "offset": 2, "dx": -6},
  "bounds": "flush", "center": true, "spacing": 45,
  "resolve": {"scale": {"color": "independent"}, "legend": {"color": "independent"}},
  "hconcat": [
   {
    "title": {"text": "C", "dx": -24, "dy": 21},
    "width": 167, "height": 124,
    "layer": [
     {"layer": [
       {"data": {"name": "km"}, "transform": [{"filter": "datum.p==='C'"}],
        "mark": {"type": "area", "interpolate": "step-after", "opacity": 0.3},
        "encoding": {
         "x": {"field": "t", "type": "quantitative", "scale": {"domain": [0, 34.7], "nice": false}, "axis": {"orient": "bottom", "offset": -39, "values": [0,1,2,3,4,5,6,7,8,9,10,11,12,13,14,15,16,17,18,19,20,21,22,23,24,25,26,27,28,29,30,31,32,33], "tickCount": 40, "labelFontSize": 2.3, "labelPadding": 0.5, "tickSize": 1.5, "title": "Time(years)", "titleFontSize": 2.5, "titlePadding": 0.5, "domainWidth": 0.5, "tickWidth": 0.4, "labelColor": "#333"}},
         "y": {"field": "lo", "type": "quantitative", "stack": null, "scale": {"domain": [0, 1], "range": [85, 0], "nice": false}, "axis": {"values": [0, 0.25, 0.5, 0.75, 1], "tickCount": 10, "format": ".2f", "labelFontSize": 2.5, "labelPadding": 0.5, "tickSize": 1.5, "title": "Survival probability", "titleFontSize": 2.5, "titlePadding": 1, "domainWidth": 0.5, "tickWidth": 0.4, "labelColor": "#333"}},
         "y2": {"field": "hi"},
         "color": {"field": "grp", "type": "nominal", "scale": {"domain": ["high", "low"], "range": ["#F23B3B", "#3052F0"]}, "legend": {"title": "ESTIMATEScore", "orient": "none", "legendX": 56, "legendY": -10, "labelFontSize": 2.5, "titleFontSize": 2.5, "symbolSize": 6, "labelOffset": 1, "columnPadding": 2, "titlePadding": 2}}
        }},
       {"data": {"name": "km"}, "transform": [{"filter": "datum.p==='C'"}],
        "mark": {"type": "line", "interpolate": "step-after", "strokeWidth": 1},
        "encoding": {"x": {"field": "t", "type": "quantitative"}, "y": {"field": "s", "type": "quantitative"}, "color": {"field": "grp", "type": "nominal"}}},
       {"data": {"values": [{}]}, "mark": {"type": "text", "align": "left", "baseline": "middle", "fontSize": 6.5, "color": "#222"},
        "encoding": {"x": {"datum": 2.3, "type": "quantitative"}, "y": {"datum": 0.25, "type": "quantitative"}, "text": {"value": "p<0.001"}}}
     ]},
     {"data": {"name": "risk"}, "transform": [{"filter": "datum.p==='C'"}],
      "mark": {"type": "text", "fontSize": 2.6, "color": "#333"},
      "encoding": {
       "x": {"field": "t", "type": "quantitative", "scale": {"domain": [0, 34.7], "nice": false}, "axis": {"orient": "bottom", "values": [0,1,2,3,4,5,6,7,8,9,10,11,12,13,14,15,16,17,18,19,20,21,22,23,24,25,26,27,28,29,30,31,32,33], "tickCount": 40, "labelFontSize": 2.3, "labelPadding": 0.5, "tickSize": 1.5, "title": "Time(years)", "titleFontSize": 2.5, "titlePadding": 0.5, "domainWidth": 0.5, "tickWidth": 0.4, "labelColor": "#333"}},
       "y": {"field": "grp", "type": "nominal", "scale": {"type": "point", "domain": ["high", "low"], "range": [102, 124], "padding": 0.5}, "axis": {"orient": "left", "title": "ESTIMATEScore", "titleFontSize": 2.5, "titlePadding": 1, "labelFontSize": 2.5, "labelPadding": 0.5, "tickSize": 1.5, "domainWidth": 0.5, "tickWidth": 0.4, "labelColor": {"condition": {"test": "datum.value==='high'", "value": "#F23B3B"}, "value": "#3052F0"}}},
       "text": {"field": "n", "type": "quantitative"}
      }}
    ],
    "resolve": {"scale": {"x": "independent", "y": "independent"}}
   },
   {
    "title": {"text": "F", "dx": -36, "dy": 17},
    "width": 134, "height": 110,
    "layer": [
     {"data": {"name": "box"}, "transform": [{"filter": "datum.p==='F'"}],
      "mark": {"type": "bar", "filled": false, "strokeWidth": 0.8, "strokeOpacity": 0.55},
      "encoding": {
       "x": {"field": "g", "type": "nominal", "scale": {"domain": ["<=65", ">65"], "paddingInner": 0.3, "paddingOuter": 0.25}, "axis": {"title": "age", "labelAngle": 0, "labelPadding": 0.5, "titlePadding": 0}},
       "y": {"field": "q1", "type": "quantitative", "scale": {"domain": [-2990, 5740], "nice": false, "zero": false}, "axis": {"title": "ESTIMATEScore", "values": [-2000, 0, 2000, 4000], "tickCount": 10, "format": "d"}},
       "y2": {"field": "q3"},
       "color": {"field": "g", "type": "nominal", "scale": {"domain": ["<=65", ">65"], "range": ["#F2457E", "#35EDA6"]}, "legend": {"title": "age", "orient": "none", "legendX": 43, "legendY": -14}}
      }},
     {"data": {"name": "box"}, "transform": [{"filter": "datum.p==='F'"}],
      "mark": {"type": "bar", "filled": false, "strokeWidth": 1},
      "encoding": {"x": {"field": "g", "type": "nominal"}, "y": {"field": "med", "type": "quantitative"}, "y2": {"field": "med"}, "color": {"field": "g", "type": "nominal"}}},
     {"data": {"name": "box"}, "transform": [{"filter": "datum.p==='F'"}],
      "mark": {"type": "rule", "strokeWidth": 0.8, "strokeOpacity": 0.55},
      "encoding": {"x": {"field": "g", "type": "nominal"}, "y": {"field": "q3", "type": "quantitative"}, "y2": {"field": "hi"}, "color": {"field": "g", "type": "nominal"}}},
     {"data": {"name": "box"}, "transform": [{"filter": "datum.p==='F'"}],
      "mark": {"type": "rule", "strokeWidth": 0.8, "strokeOpacity": 0.55},
      "encoding": {"x": {"field": "g", "type": "nominal"}, "y": {"field": "lo", "type": "quantitative"}, "y2": {"field": "q1"}, "color": {"field": "g", "type": "nominal"}}},
     {"data": {"name": "F"},
      "transform": [{"window": [{"op": "row_number", "as": "i"}], "groupby": ["g"]}, {"window": [{"op": "percent_rank", "as": "pr"}], "groupby": ["g"], "sort": [{"field": "i"}]}],
      "mark": {"type": "point", "filled": true, "size": 6, "opacity": 0.95},
      "encoding": {"x": {"field": "g", "type": "nominal"}, "xOffset": {"field": "pr", "type": "quantitative", "scale": {"domain": [0, 1], "range": [4, 39]}}, "y": {"field": "v", "type": "quantitative"}, "color": {"field": "g", "type": "nominal"}}},
     {"data": {"values": [{"g": "<=65"}, {"g": ">65"}]}, "mark": {"type": "line", "color": "#666", "strokeWidth": 0.6},
      "encoding": {"x": {"field": "g", "type": "nominal"}, "y": {"datum": 5480}}},
     {"data": {"values": [{"g": "<=65"}, {"g": ">65"}]}, "mark": {"type": "rule", "color": "#666", "strokeWidth": 0.6},
      "encoding": {"x": {"field": "g", "type": "nominal"}, "y": {"datum": 5480}, "y2": {"datum": 5265}}},
     {"data": {"values": [{}]}, "mark": {"type": "text", "dx": 30, "dy": -1.5, "baseline": "bottom", "fontSize": 5.5, "color": "#333"},
      "encoding": {"x": {"datum": "<=65", "type": "nominal"}, "y": {"datum": 5480}, "text": {"value": "0.016"}}}
    ]
   },
   {
    "title": {"text": "I", "dx": -31, "dy": -2},
    "width": 148, "height": 98,
    "view": {"stroke": "#8c8c8c", "strokeWidth": 0.8},
    "layer": [
     {"data": {"name": "box"}, "transform": [{"filter": "datum.p==='I'"}],
      "mark": {"type": "rule", "strokeDash": [2, 1.5], "strokeWidth": 0.6, "color": "#555"},
      "encoding": {
       "x": {"field": "g", "type": "nominal", "scale": {"domain": ["Stage I", "Stage II", "Stage III", "Stage IV"], "paddingInner": 0.215, "paddingOuter": 0.247}, "axis": {"title": null, "labelAngle": 0, "labelFont": "Liberation Serif", "labelFontSize": 6, "tickSize": 0, "domain": false, "labelPadding": 4, "labelColor": "#000"}},
       "y": {"field": "lo", "type": "quantitative", "scale": {"domain": [-2950, 6600], "nice": false, "zero": false}, "axis": {"title": "ESTIMATEScore", "titleFont": "Liberation Serif", "titleFontSize": 6.5, "labelFont": "Liberation Serif", "labelFontSize": 5.5, "labelAngle": -90, "labelAlign": "center", "labelBaseline": "bottom", "values": [-2000, 0, 2000, 4000, 6000], "tickCount": 10, "format": "d", "domain": false, "tickSize": 3, "labelPadding": 1.5, "labelColor": "#000", "titleColor": "#000", "titlePadding": 3}},
       "y2": {"field": "hi"}}},
     {"data": {"name": "box"}, "transform": [{"filter": "datum.p==='I'"}],
      "mark": {"type": "bar", "filled": false, "stroke": "#444", "strokeWidth": 0.7, "width": {"band": 0.5}},
      "encoding": {"x": {"field": "g", "type": "nominal"}, "y": {"field": "hi", "type": "quantitative"}, "y2": {"field": "hi"}}},
     {"data": {"name": "box"}, "transform": [{"filter": "datum.p==='I'"}],
      "mark": {"type": "bar", "filled": false, "stroke": "#444", "strokeWidth": 0.7, "width": {"band": 0.5}},
      "encoding": {"x": {"field": "g", "type": "nominal"}, "y": {"field": "lo", "type": "quantitative"}, "y2": {"field": "lo"}}},
     {"data": {"name": "box"}, "transform": [{"filter": "datum.p==='I'"}],
      "mark": {"type": "bar", "stroke": "#777", "strokeWidth": 0.8},
      "encoding": {"x": {"field": "g", "type": "nominal"}, "y": {"field": "q1", "type": "quantitative"}, "y2": {"field": "q3"}, "color": {"field": "g", "type": "nominal", "scale": {"domain": ["Stage I", "Stage II", "Stage III", "Stage IV"], "range": ["#D6358E", "#6CF52B", "#3AA8F5", "#60FBC8"]}, "legend": null}}},
     {"data": {"name": "box"}, "transform": [{"filter": "datum.p==='I'"}],
      "mark": {"type": "bar", "filled": false, "stroke": "#2a2a2a", "strokeWidth": 1.8},
      "encoding": {"x": {"field": "g", "type": "nominal"}, "y": {"field": "med", "type": "quantitative"}, "y2": {"field": "med"}}},
     {"data": {"values": [{"g": "Stage I"}, {"g": "Stage IV"}]}, "mark": {"type": "line", "color": "#666", "strokeWidth": 0.6},
      "encoding": {"x": {"field": "g", "type": "nominal"}, "y": {"datum": 5700}}},
     {"data": {"values": [{"g": "Stage I"}, {"g": "Stage IV"}]}, "mark": {"type": "rule", "color": "#666", "strokeWidth": 0.6},
      "encoding": {"x": {"field": "g", "type": "nominal"}, "y": {"datum": 5700}, "y2": {"datum": 5420}}},
     {"data": {"values": [{}]}, "mark": {"type": "text", "dx": 17, "dy": -1, "baseline": "bottom", "fontSize": 6, "font": "Liberation Serif", "color": "#000"},
      "encoding": {"x": {"datum": "Stage II", "type": "nominal"}, "y": {"datum": 5700}, "text": {"value": "p=6.161e-04"}}}
    ]
   },
   {
    "title": {"text": "L", "dx": -33, "dy": 17},
    "width": 136, "height": 107,
    "layer": [
     {"data": {"name": "box"}, "transform": [{"filter": "datum.p==='J'"}],
      "mark": {"type": "bar", "filled": false, "strokeWidth": 0.8, "strokeOpacity": 0.55},
      "encoding": {
       "x": {"field": "g", "type": "nominal", "scale": {"domain": ["No", "Yes"], "paddingInner": 0.35, "paddingOuter": 0.275}, "axis": {"title": "Ulceration", "labelAngle": 0, "labelPadding": 0.5, "titlePadding": 0}},
       "y": {"field": "q1", "type": "quantitative", "scale": {"domain": [-1683, 4261], "nice": false, "zero": false}, "axis": {"title": "ImmuneScore", "values": [0, 2000, 4000], "tickCount": 10, "format": "d"}},
       "y2": {"field": "q3"},
       "color": {"field": "g", "type": "nominal", "scale": {"domain": ["No", "Yes"], "range": ["#F2457E", "#35EDA6"]}, "legend": {"title": "Ulceration", "orient": "none", "legendX": 39, "legendY": -14}}
      }},
     {"data": {"name": "box"}, "transform": [{"filter": "datum.p==='J'"}],
      "mark": {"type": "bar", "filled": false, "strokeWidth": 1},
      "encoding": {"x": {"field": "g", "type": "nominal"}, "y": {"field": "med", "type": "quantitative"}, "y2": {"field": "med"}, "color": {"field": "g", "type": "nominal"}}},
     {"data": {"name": "box"}, "transform": [{"filter": "datum.p==='J'"}],
      "mark": {"type": "rule", "strokeWidth": 0.8, "strokeOpacity": 0.55},
      "encoding": {"x": {"field": "g", "type": "nominal"}, "y": {"field": "q3", "type": "quantitative"}, "y2": {"field": "hi"}, "color": {"field": "g", "type": "nominal"}}},
     {"data": {"name": "box"}, "transform": [{"filter": "datum.p==='J'"}],
      "mark": {"type": "rule", "strokeWidth": 0.8, "strokeOpacity": 0.55},
      "encoding": {"x": {"field": "g", "type": "nominal"}, "y": {"field": "lo", "type": "quantitative"}, "y2": {"field": "q1"}, "color": {"field": "g", "type": "nominal"}}},
     {"data": {"name": "J"},
      "transform": [{"window": [{"op": "row_number", "as": "i"}], "groupby": ["g"]}, {"window": [{"op": "percent_rank", "as": "pr"}], "groupby": ["g"], "sort": [{"field": "i"}]}],
      "mark": {"type": "point", "filled": true, "size": 6, "opacity": 0.95},
      "encoding": {"x": {"field": "g", "type": "nominal"}, "xOffset": {"field": "pr", "type": "quantitative", "scale": {"domain": [0, 1], "range": [3, 37]}}, "y": {"field": "v", "type": "quantitative"}, "color": {"field": "g", "type": "nominal"}}},
     {"data": {"values": [{"g": "No"}, {"g": "Yes"}]}, "mark": {"type": "line", "color": "#666", "strokeWidth": 0.6},
      "encoding": {"x": {"field": "g", "type": "nominal"}, "y": {"datum": 4040}}},
     {"data": {"values": [{"g": "No"}, {"g": "Yes"}]}, "mark": {"type": "rule", "color": "#666", "strokeWidth": 0.6},
      "encoding": {"x": {"field": "g", "type": "nominal"}, "y": {"datum": 4040}, "y2": {"datum": 3890}}},
     {"data": {"values": [{}]}, "mark": {"type": "text", "dx": 31, "dy": -1.5, "baseline": "bottom", "fontSize": 5.5, "color": "#333"},
      "encoding": {"x": {"datum": "No", "type": "nominal"}, "y": {"datum": 4040}, "text": {"value": "0.011"}}}
    ]
   }
  ]
 }
]
}
